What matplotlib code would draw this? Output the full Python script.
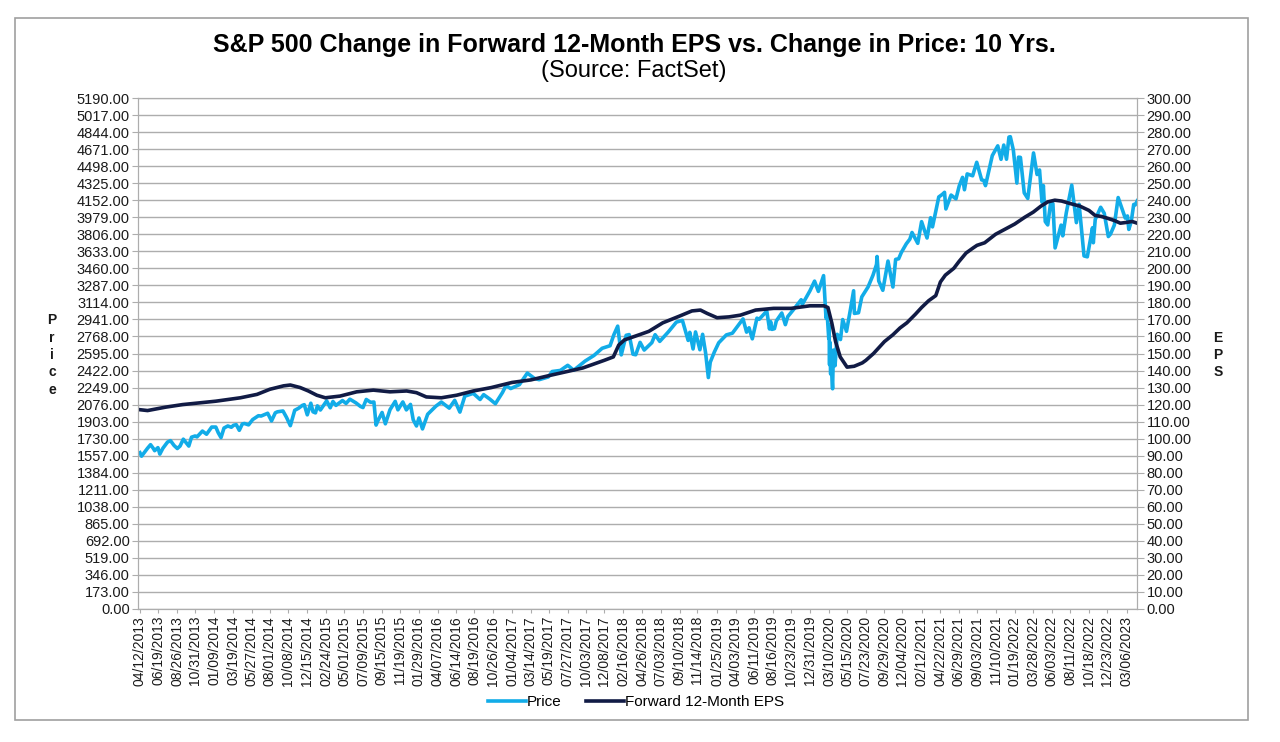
import matplotlib
matplotlib.use("Agg")
import matplotlib.pyplot as plt
from matplotlib.patches import Rectangle
import pandas as pd

# S&P 500 price (a few points a month, extra points at the dips)
price_dates = [
    "2013-04-12", "2013-04-18", "2013-04-30", "2013-05-10", "2013-05-21", "2013-05-31", "2013-06-05",
    "2013-06-17", "2013-06-24", "2013-07-05", "2013-07-22", "2013-08-02", "2013-08-15", "2013-08-27",
    "2013-09-06", "2013-09-18", "2013-09-30", "2013-10-08", "2013-10-18", "2013-10-31", "2013-11-07",
    "2013-11-27", "2013-12-12", "2013-12-31",
    "2014-01-15", "2014-01-24", "2014-02-03", "2014-02-14", "2014-02-28", "2014-03-13", "2014-03-21",
    "2014-03-31", "2014-04-11", "2014-04-22", "2014-04-30", "2014-05-15", "2014-05-30", "2014-06-20",
    "2014-06-30", "2014-07-24", "2014-08-07", "2014-08-21", "2014-08-29", "2014-09-18", "2014-10-01",
    "2014-10-15", "2014-10-31", "2014-11-14", "2014-11-28", "2014-12-05", "2014-12-16", "2014-12-29",
    "2015-01-06", "2015-01-15", "2015-01-22", "2015-02-02", "2015-02-25", "2015-03-10", "2015-03-20",
    "2015-03-31", "2015-04-24", "2015-05-07", "2015-05-21", "2015-06-12", "2015-06-29", "2015-07-08",
    "2015-07-20", "2015-08-05", "2015-08-17", "2015-08-24", "2015-08-25", "2015-09-01", "2015-09-16",
    "2015-09-28", "2015-10-15", "2015-11-03", "2015-11-13", "2015-12-01", "2015-12-14", "2015-12-29",
    "2016-01-08", "2016-01-20", "2016-01-29", "2016-02-11", "2016-03-01", "2016-03-31", "2016-04-20",
    "2016-05-19", "2016-06-08", "2016-06-27", "2016-07-15", "2016-08-15", "2016-09-09", "2016-09-22",
    "2016-10-14", "2016-11-04", "2016-11-30", "2016-12-13", "2016-12-30",
    "2017-01-31", "2017-03-01", "2017-03-27", "2017-04-13", "2017-05-17", "2017-05-31", "2017-06-30",
    "2017-07-27", "2017-08-18", "2017-09-29", "2017-10-31", "2017-11-30", "2017-12-29",
    "2018-01-12", "2018-01-26", "2018-02-08", "2018-02-26", "2018-03-09", "2018-03-23", "2018-04-02",
    "2018-04-18", "2018-05-03", "2018-05-31", "2018-06-12", "2018-06-29", "2018-07-31", "2018-08-29",
    "2018-09-20", "2018-10-11", "2018-10-17", "2018-10-29", "2018-11-07", "2018-11-23", "2018-12-03",
    "2018-12-14", "2018-12-24", "2018-12-31",
    "2019-01-15", "2019-01-31", "2019-02-28", "2019-03-22", "2019-04-30", "2019-05-13", "2019-05-22",
    "2019-06-03", "2019-06-20", "2019-06-28", "2019-07-26", "2019-08-05", "2019-08-09", "2019-08-14",
    "2019-08-23", "2019-08-30", "2019-09-19", "2019-10-02", "2019-10-11", "2019-10-31", "2019-11-29",
    "2019-12-03", "2019-12-31",
    "2020-01-17", "2020-01-31", "2020-02-19", "2020-02-28", "2020-03-03", "2020-03-09", "2020-03-10",
    "2020-03-12", "2020-03-13", "2020-03-16", "2020-03-17", "2020-03-23", "2020-03-26", "2020-04-01",
    "2020-04-09", "2020-04-21", "2020-04-29", "2020-05-13", "2020-05-27", "2020-06-08", "2020-06-11",
    "2020-06-26", "2020-07-08", "2020-07-31", "2020-08-18", "2020-08-31", "2020-09-02", "2020-09-08",
    "2020-09-23", "2020-10-12", "2020-10-30", "2020-11-09", "2020-11-20", "2020-11-30", "2020-12-18",
    "2020-12-31",
    "2021-01-08", "2021-01-29", "2021-02-12", "2021-03-04", "2021-03-17", "2021-03-24", "2021-04-16",
    "2021-04-29", "2021-05-07", "2021-05-12", "2021-05-31", "2021-06-18", "2021-06-30", "2021-07-12",
    "2021-07-19", "2021-07-29", "2021-08-18", "2021-09-02", "2021-09-20", "2021-09-28", "2021-10-04",
    "2021-10-29", "2021-11-18", "2021-11-30", "2021-12-10", "2021-12-20", "2021-12-29",
    "2022-01-03", "2022-01-14", "2022-01-27", "2022-02-02", "2022-02-09", "2022-02-23", "2022-03-08",
    "2022-03-29", "2022-04-11", "2022-04-20", "2022-04-29", "2022-05-04", "2022-05-11", "2022-05-20",
    "2022-05-31", "2022-06-08", "2022-06-16", "2022-07-08", "2022-07-14", "2022-07-27", "2022-08-16",
    "2022-09-02", "2022-09-12", "2022-09-30", "2022-10-12", "2022-10-31", "2022-11-03", "2022-11-10",
    "2022-11-30", "2022-12-13", "2022-12-28",
    "2023-01-05", "2023-01-19", "2023-02-02", "2023-02-28", "2023-03-08", "2023-03-13", "2023-03-22",
    "2023-03-31", "2023-04-06", "2023-04-13",
]
price_values = [
    1588, 1552, 1597, 1633, 1669, 1631, 1608,
    1639, 1573, 1632, 1695, 1710, 1661, 1630,
    1655, 1725, 1682, 1655, 1745, 1757, 1748,
    1807, 1775, 1848,
    1848, 1790, 1741, 1838, 1859, 1846, 1866,
    1872, 1815, 1879, 1884, 1870, 1924, 1963,
    1960, 1988, 1910, 1993, 2003, 2011, 1946,
    1862, 2018, 2039, 2068, 2075, 1972, 2090,
    2003, 1992, 2063, 2021, 2114, 2044, 2108,
    2068, 2117, 2088, 2131, 2094, 2057, 2046,
    2128, 2099, 2102, 1893, 1868, 1914, 1996,
    1881, 2024, 2109, 2023, 2103, 2022, 2078,
    1922, 1859, 1940, 1829, 1978, 2060, 2102,
    2040, 2119, 2000, 2162, 2190, 2128, 2177,
    2133, 2085, 2199, 2271, 2239,
    2279, 2396, 2342, 2329, 2357, 2412, 2423,
    2475, 2425, 2519, 2575, 2648, 2674,
    2786, 2873, 2581, 2780, 2787, 2588, 2582,
    2708, 2630, 2705, 2786, 2718, 2816, 2914,
    2931, 2728, 2810, 2641, 2814, 2633, 2790,
    2600, 2351, 2507,
    2610, 2704, 2784, 2801, 2946, 2812, 2856,
    2744, 2954, 2942, 3026, 2844, 2919, 2840,
    2847, 2926, 3006, 2888, 2970, 3038, 3141,
    3093, 3231,
    3330, 3226, 3386, 2954, 3003, 2747, 2882,
    2481, 2711, 2386, 2529, 2237, 2630, 2471,
    2790, 2737, 2940, 2820, 3036, 3232, 3002,
    3009, 3170, 3271, 3390, 3500, 3580, 3332,
    3237, 3534, 3270, 3551, 3557, 3622, 3709,
    3756,
    3824, 3714, 3934, 3768, 3974, 3881, 4185,
    4211, 4232, 4063, 4204, 4166, 4298, 4384,
    4258, 4419, 4400, 4537, 4358, 4353, 4300,
    4605, 4704, 4567, 4712, 4568, 4793,
    4797, 4663, 4326, 4589, 4587, 4226, 4170,
    4632, 4413, 4459, 4132, 4300, 3935, 3901,
    4132, 4116, 3667, 3899, 3790, 4024, 4305,
    3924, 4110, 3586, 3577, 3872, 3720, 3956,
    4080, 4019, 3783,
    3808, 3899, 4179, 3970, 3992, 3855, 3937,
    4109, 4105, 4146,
]

# Forward 12-month EPS
eps_dates = [
    "2013-04-12", "2013-05-10", "2013-07-15", "2013-09-15", "2013-11-15", "2014-01-15", "2014-04-15",
    "2014-06-15", "2014-08-01", "2014-09-20", "2014-10-15", "2014-11-20", "2014-12-20", "2015-01-20",
    "2015-02-20", "2015-04-15", "2015-06-15", "2015-08-15", "2015-10-15", "2015-12-15", "2016-01-20",
    "2016-02-25", "2016-04-20", "2016-06-15", "2016-08-15", "2016-10-20", "2017-01-04", "2017-03-14",
    "2017-05-19", "2017-07-27", "2017-09-20", "2017-12-08", "2018-01-10", "2018-01-30", "2018-02-20",
    "2018-04-15", "2018-05-20", "2018-07-10", "2018-09-10", "2018-10-25", "2018-11-25", "2018-12-20",
    "2019-01-25", "2019-03-10", "2019-04-20", "2019-06-15", "2019-08-20", "2019-10-23", "2019-12-31",
    "2020-02-20", "2020-03-06", "2020-03-20", "2020-04-03", "2020-04-20", "2020-05-15", "2020-06-10",
    "2020-07-10", "2020-07-23", "2020-08-20", "2020-09-29", "2020-10-30", "2020-11-25", "2020-12-20",
    "2021-01-20", "2021-02-12", "2021-03-10", "2021-04-05", "2021-04-22", "2021-05-10", "2021-06-10",
    "2021-06-29", "2021-07-25", "2021-08-20", "2021-09-03", "2021-10-01", "2021-10-25", "2021-11-10",
    "2021-12-15", "2022-01-19", "2022-02-25", "2022-03-28", "2022-04-25", "2022-05-20", "2022-06-15",
    "2022-07-10", "2022-08-11", "2022-09-15", "2022-10-18", "2022-11-10", "2022-12-01", "2022-12-23",
    "2023-01-20", "2023-02-10", "2023-03-06", "2023-03-25", "2023-04-13",
]
eps_values = [
    117.0, 116.5, 118.5, 120.0, 121.0, 122.0, 124.0,
    126.0, 129.0, 131.0, 131.5, 130.0, 128.0, 125.5,
    124.0, 125.0, 127.5, 128.5, 127.5, 128.0, 127.0,
    124.5, 124.0, 125.5, 128.0, 130.0, 133.0, 134.5,
    137.0, 139.5, 141.5, 146.0, 148.0, 155.0, 158.0,
    161.0, 163.0, 168.0, 172.0, 175.0, 175.5, 173.5,
    171.0, 171.5, 172.5, 175.5, 176.5, 176.5, 178.0,
    178.0, 177.0, 168.0, 157.0, 148.0, 142.0, 142.5,
    144.5, 146.0, 150.0, 157.0, 161.0, 165.0, 168.0,
    173.0, 177.0, 181.0, 184.0, 192.0, 196.0, 200.0,
    204.0, 209.0, 212.0, 213.5, 215.0, 218.0, 220.0,
    223.0, 226.0, 230.0, 233.0, 236.5, 239.0, 240.0,
    239.5, 238.0, 236.5, 234.0, 231.0, 230.5, 229.5,
    228.0, 226.5, 227.0, 227.5, 226.5,
]

tick_labels = [
    "04/12/2013", "06/19/2013", "08/26/2013", "10/31/2013", "01/09/2014", "03/19/2014",
    "05/27/2014", "08/01/2014", "10/08/2014", "12/15/2014", "02/24/2015", "05/01/2015",
    "07/09/2015", "09/15/2015", "11/19/2015", "01/29/2016", "04/07/2016", "06/14/2016",
    "08/19/2016", "10/26/2016", "01/04/2017", "03/14/2017", "05/19/2017", "07/27/2017",
    "10/03/2017", "12/08/2017", "02/16/2018", "04/26/2018", "07/03/2018", "09/10/2018",
    "11/14/2018", "01/25/2019", "04/03/2019", "06/11/2019", "08/16/2019", "10/23/2019",
    "12/31/2019", "03/10/2020", "05/15/2020", "07/23/2020", "09/29/2020", "12/04/2020",
    "02/12/2021", "04/22/2021", "06/29/2021", "09/03/2021", "11/10/2021", "01/19/2022",
    "03/28/2022", "06/03/2022", "08/11/2022", "10/18/2022", "12/23/2022", "03/06/2023",
]

price_ticks = [i * 173 for i in range(31)]
eps_ticks = [i * 10 for i in range(31)]

PRICE_COLOR = "#12ACE8"
EPS_COLOR = "#111B45"
GRID_COLOR = "#ADADAD"
TEXT_COLOR = "#1A1A1A"

plt.rcParams["font.family"] = ["Liberation Sans", "DejaVu Sans"]

fig = plt.figure(figsize=(12.8, 7.42), dpi=100)
fig.patches.append(Rectangle((15 / 1280, 1 - 720 / 742), 1233 / 1280, 702 / 742,
                             transform=fig.transFigure, fill=False,
                             edgecolor="#A0A0A0", linewidth=1.2))

ax = fig.add_axes([138 / 1280, 1 - 609 / 742, 999 / 1280, 511 / 742])
ax2 = ax.twinx()

px = pd.to_datetime(price_dates)
ex = pd.to_datetime(eps_dates)
line_price, = ax.plot(px, price_values, color=PRICE_COLOR, linewidth=2.6, label="Price")
line_eps, = ax2.plot(ex, eps_values, color=EPS_COLOR, linewidth=2.6,
                     label="Forward 12-Month EPS")

ax.set_ylim(0, 5190)
ax.set_yticks(price_ticks)
ax.set_yticklabels([f"{v:.2f}" for v in price_ticks], fontsize=10.5)
ax2.set_ylim(0, 300)
ax2.set_yticks(eps_ticks)
ax2.set_yticklabels([f"{v:.2f}" for v in eps_ticks], fontsize=10.5)

tick_dates = pd.to_datetime(tick_labels, format="%m/%d/%Y")
ax.set_xticks(tick_dates)
ax.set_xticklabels(tick_labels, rotation=90, fontsize=10)
ax.set_xlim(pd.Timestamp("2013-04-05"), pd.Timestamp("2023-04-12"))

ax.grid(axis="y", color=GRID_COLOR, linewidth=1)
ax.set_axisbelow(True)
for spine in list(ax.spines.values()) + list(ax2.spines.values()):
    spine.set_color(GRID_COLOR)
ax.tick_params(axis="y", length=4, color=GRID_COLOR, pad=2, labelcolor=TEXT_COLOR)
ax.tick_params(axis="x", length=3, color=GRID_COLOR, pad=2, labelcolor=TEXT_COLOR)
ax2.tick_params(axis="y", length=5, color=GRID_COLOR, pad=2, labelcolor=TEXT_COLOR)

fig.text(52 / 1280, 1 - 355 / 742, "P\nr\ni\nc\ne", ha="center", va="center",
         fontsize=10, fontweight="bold", linespacing=1.3, color=TEXT_COLOR)
fig.text(1218 / 1280, 1 - 355 / 742, "E\nP\nS", ha="center", va="center",
         fontsize=10, fontweight="bold", linespacing=1.3, color=TEXT_COLOR)

fig.text(634 / 1280, 1 - 45 / 742,
         "S&P 500 Change in Forward 12-Month EPS vs. Change in Price: 10 Yrs.",
         ha="center", va="center", fontsize=18, fontweight="bold")
fig.text(634 / 1280, 1 - 71 / 742, "(Source: FactSet)", ha="center", va="center",
         fontsize=17)

fig.legend(handles=[line_price, line_eps], loc="center", bbox_to_anchor=(636 / 1280, 1 - 702 / 742),
           ncol=2, frameon=False, fontsize=11, handlelength=2.5, columnspacing=1.6,
           handletextpad=0.05)

fig.savefig("out.png", dpi=100)
